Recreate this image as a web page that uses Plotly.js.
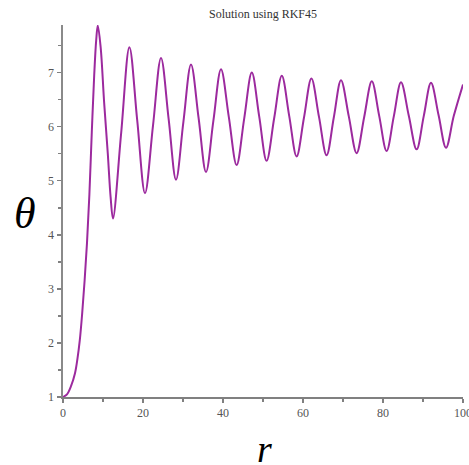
<!DOCTYPE html>
<html>
<head>
<meta charset="utf-8">
<script src="https://cdn.plot.ly/plotly-3.0.1.min.js"></script>
<style>
  html, body { margin: 0; padding: 0; background: #ffffff; }
  #plot { width: 469px; height: 465px; }
</style>
</head>
<body>
<div id="plot"></div>
<script>
// Radius values along the RKF45 solution (initial rise, then peaks, crossings and troughs)
const rValues = [
  0, 1.0, 2.0, 3.0, 3.6, 4.2, 4.8, 5.4, 6.0, 6.6, 7.2, 7.8, 8.3,
  8.7, 9.4, 10.3, 11.2, 11.9, 12.5,
  14.55, 16.6, 18.55, 20.5, 22.5, 24.5, 26.4, 28.25, 30.1, 32.0,
  33.9, 35.75, 37.6, 39.5, 41.45, 43.4, 45.3, 47.2, 49.05, 50.9,
  52.8, 54.7, 56.55, 58.4, 60.25, 62.1, 64.0, 65.9, 67.7, 69.5,
  71.45, 73.4, 75.3, 77.2, 79.05, 80.9, 82.7, 84.5, 86.45, 88.4,
  90.2, 92.0, 93.9, 95.75, 97.7, 100
];

// Corresponding theta values
const thetaValues = [
  1, 1.05, 1.2, 1.44, 1.7, 2.05, 2.55, 3.15, 3.85, 4.75, 5.9, 6.95, 7.6,
  7.87, 7.48, 6.43, 5.5, 4.7, 4.30,
  5.89, 7.47, 6.12, 4.77, 6.02, 7.27, 6.15, 5.02, 6.09, 7.15,
  6.16, 5.16, 6.11, 7.06, 6.18, 5.29, 6.15, 7.00, 6.19, 5.37,
  6.16, 6.94, 6.20, 5.45, 6.17, 6.89, 6.18, 5.47, 6.17, 6.86,
  6.19, 5.51, 6.18, 6.84, 6.20, 5.55, 6.19, 6.82, 6.20, 5.58,
  6.20, 6.81, 6.21, 5.61, 6.20, 6.78
];

const xTicks = [0, 20, 40, 60, 80, 100];
const yTicks = [1, 2, 3, 4, 5, 6, 7];

const serif = 'Liberation Serif, Times New Roman, serif';

const trace = {
  x: rValues,
  y: thetaValues,
  type: 'scatter',
  mode: 'lines',
  line: { color: '#9c2a9e', width: 2, shape: 'spline', smoothing: 1 },
  hoverinfo: 'skip'
};

const layout = {
  width: 469,
  height: 465,
  margin: { l: 63, r: 6, t: 25, b: 68 },
  paper_bgcolor: '#ffffff',
  plot_bgcolor: '#ffffff',
  showlegend: false,
  title: {
    text: 'Solution using RKF45',
    font: { family: serif, size: 12, color: '#333333' },
    x: 0.5, xref: 'paper',
    y: 1 - 14 / 465, yref: 'container', yanchor: 'middle'
  },
  xaxis: {
    range: [0, 100],
    tickvals: xTicks,
    ticktext: xTicks.map(String),
    ticklabeloverflow: 'allow',
    showgrid: false,
    zeroline: false,
    showline: true,
    linecolor: '#808080',
    linewidth: 1.5,
    ticks: 'outside',
    ticklen: 4,
    tickwidth: 1.5,
    tickcolor: '#808080',
    minor: { dtick: 10, tick0: 0, ticks: 'outside', ticklen: 3, tickwidth: 1.5, tickcolor: '#808080', showgrid: false },
    tickfont: { family: serif, size: 12, color: '#555555' },
    fixedrange: true
  },
  yaxis: {
    range: [1, 7.88],
    tickvals: yTicks,
    ticktext: yTicks.map(String),
    showgrid: false,
    zeroline: false,
    showline: true,
    linecolor: '#8a8a8a',
    linewidth: 2.5,
    ticks: 'outside',
    ticklen: 4,
    tickwidth: 1.5,
    tickcolor: '#808080',
    minor: { dtick: 0.5, tick0: 1, ticks: 'outside', ticklen: 3, tickwidth: 1.5, tickcolor: '#808080', showgrid: false },
    tickfont: { family: serif, size: 12, color: '#555555' },
    fixedrange: true
  },
  // Axis names drawn upright, as in a math-style plot
  annotations: [
    {
      text: '<i>θ</i>',
      xref: 'paper', yref: 'paper',
      x: -0.094, y: 0.494,
      xanchor: 'center', yanchor: 'middle',
      showarrow: false,
      font: { family: serif, size: 44, color: '#000000' }
    },
    {
      text: '<i>r</i>',
      xref: 'paper', yref: 'paper',
      x: 0.5025, y: -0.079,
      xanchor: 'center', yanchor: 'top',
      showarrow: false,
      font: { family: serif, size: 38, color: '#000000' }
    }
  ]
};

Plotly.newPlot('plot', [trace], layout, { displayModeBar: false, staticPlot: true });
</script>
</body>
</html>
